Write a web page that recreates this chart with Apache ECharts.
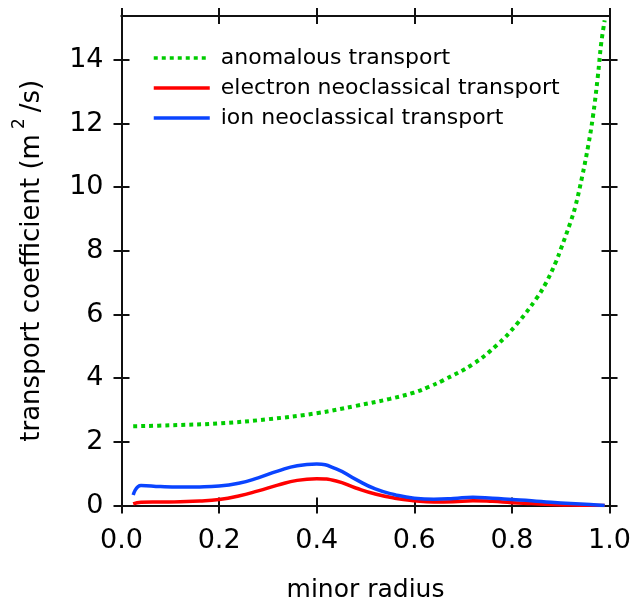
<!DOCTYPE html>
<html>
<head>
<meta charset="utf-8">
<script src="https://cdn.jsdelivr.net/npm/echarts@6/dist/echarts.min.js"></script>
<style>html,body{margin:0;padding:0;background:#fff}#c{width:634px;height:608px}</style>
</head>
<body>
<div id="c"></div>
<script>
// ---- data ----
var xTickValues = [0, 0.2, 0.4, 0.6, 0.8, 1.0];
var yTickValues = [0, 2, 4, 6, 8, 10, 12, 14];

var anomX = [0.024, 0.1, 0.2, 0.3, 0.4, 0.48, 0.55, 0.6, 0.63, 0.66, 0.72, 0.77, 0.81, 0.85, 0.87, 0.89, 0.90, 0.92, 0.93, 0.944, 0.956, 0.966, 0.976, 0.983, 0.99];
var anomY = [2.49, 2.52, 2.58, 2.71, 2.90, 3.13, 3.35, 3.55, 3.73, 3.94, 4.44, 5.05, 5.70, 6.50, 7.00, 7.65, 8.05, 8.90, 9.40, 10.34, 11.28, 12.22, 13.48, 14.53, 15.24];

var neoX = [0.024, 0.04, 0.08, 0.12, 0.16, 0.20, 0.24, 0.28, 0.32, 0.36, 0.40, 0.44, 0.48, 0.52, 0.56, 0.60, 0.64, 0.68, 0.72, 0.76, 0.80, 0.84, 0.88, 0.92, 0.96, 0.99];
var ionY = [0.33, 0.63, 0.595, 0.58, 0.585, 0.61, 0.70, 0.87, 1.08, 1.25, 1.30, 1.15, 0.82, 0.52, 0.34, 0.23, 0.20, 0.22, 0.26, 0.23, 0.19, 0.15, 0.10, 0.06, 0.03, 0.0];
var electronY = [0.05, 0.10, 0.11, 0.12, 0.14, 0.19, 0.30, 0.46, 0.64, 0.79, 0.84, 0.77, 0.55, 0.36, 0.23, 0.15, 0.11, 0.12, 0.15, 0.13, 0.09, 0.06, 0.03, 0.015, 0.005, 0.0];

var seriesNames = ['anomalous transport', 'electron neoclassical transport', 'ion neoclassical transport'];

function pairs(xs, ys) { return xs.map(function (x, i) { return [x, ys[i]]; }); }

var FONT = 'DejaVu Sans';
var AX = '#111';
var Y_MAX = 15.38;

function xAx(pos, inside, labels) {
  return {
    type: 'value', position: pos, min: 0, max: 1, interval: 0.2,
    axisLine: { show: true, onZero: false, lineStyle: { color: AX, width: 2 } },
    axisTick: { show: true, inside: inside, length: 8, lineStyle: { color: AX, width: 2 }, customValues: xTickValues },
    axisLabel: labels ? { show: true, customValues: xTickValues, formatter: function (v) { return v.toFixed(1); }, fontFamily: FONT, fontSize: 27, color: '#000', margin: 22 } : { show: false },
    splitLine: { show: false },
    name: labels ? 'minor radius' : '',
    nameLocation: 'middle', nameGap: 72,
    nameTextStyle: { fontFamily: FONT, fontSize: 25, color: '#000' }
  };
}
function yAx(pos, inside, labels) {
  return {
    type: 'value', position: pos, min: 0, max: Y_MAX, interval: 2,
    axisLine: { show: true, onZero: false, lineStyle: { color: AX, width: 2 } },
    axisTick: { show: true, inside: inside, length: 8, lineStyle: { color: AX, width: 2 }, customValues: yTickValues },
    axisLabel: labels ? { show: true, customValues: yTickValues, fontFamily: FONT, fontSize: 27, color: '#000', margin: 18 } : { show: false },
    splitLine: { show: false },
    name: labels ? '{a|transport coefficient (m}{s|2}{a|/s)}' : '',
    nameLocation: 'middle', nameGap: 76,
    nameTextStyle: {
      fontFamily: FONT, fontSize: 26, color: '#000',
      rich: {
        a: { fontFamily: FONT, fontSize: 26, color: '#000', lineHeight: 34, verticalAlign: 'bottom' },
        s: { fontFamily: FONT, fontSize: 17, color: '#000', lineHeight: 34, verticalAlign: 'top', padding: [0, 6, 0, 5] }
      }
    }
  };
}

var chart = echarts.init(document.getElementById('c'), null, { renderer: 'canvas' });
chart.setOption({
  animation: false,
  backgroundColor: '#fff',
  grid: { left: 121.5, right: 24, top: 16, bottom: 102.5, containLabel: false },
  xAxis: [xAx('bottom', false, true), xAx('bottom', true, false), xAx('top', true, false), xAx('top', false, false)],
  yAxis: [yAx('left', false, true), yAx('left', true, false), yAx('right', true, false), yAx('right', false, false)],
  legend: {
    orient: 'vertical', left: 152, top: 47, padding: 0,
    itemWidth: 56, itemHeight: 22, itemGap: 8,
    itemStyle: { opacity: 0 },
    lineStyle: { width: 3.5 },
    textStyle: { fontFamily: FONT, fontSize: 22, color: '#000', lineHeight: 22, padding: [0, 0, 0, 6] },
    data: seriesNames
  },
  series: [
    { name: seriesNames[0], type: 'line', xAxisIndex: 0, yAxisIndex: 0, data: pairs(anomX, anomY), smooth: 0.4, showSymbol: false, symbol: 'none',
      lineStyle: { color: '#00cc00', width: 4, type: [4, 4], cap: 'butt' }, itemStyle: { color: '#00cc00' }, z: 3 },
    { name: seriesNames[1], type: 'line', xAxisIndex: 0, yAxisIndex: 0, data: pairs(neoX, electronY), smooth: 0.5, showSymbol: false, symbol: 'none',
      lineStyle: { color: '#ff0000', width: 3.5 }, itemStyle: { color: '#ff0000' }, z: 3 },
    { name: seriesNames[2], type: 'line', xAxisIndex: 0, yAxisIndex: 0, data: pairs(neoX, ionY), smooth: 0.5, showSymbol: false, symbol: 'none',
      lineStyle: { color: '#0a44ff', width: 3.5 }, itemStyle: { color: '#0a44ff' }, z: 4 }
  ]
});
</script>
</body>
</html>
